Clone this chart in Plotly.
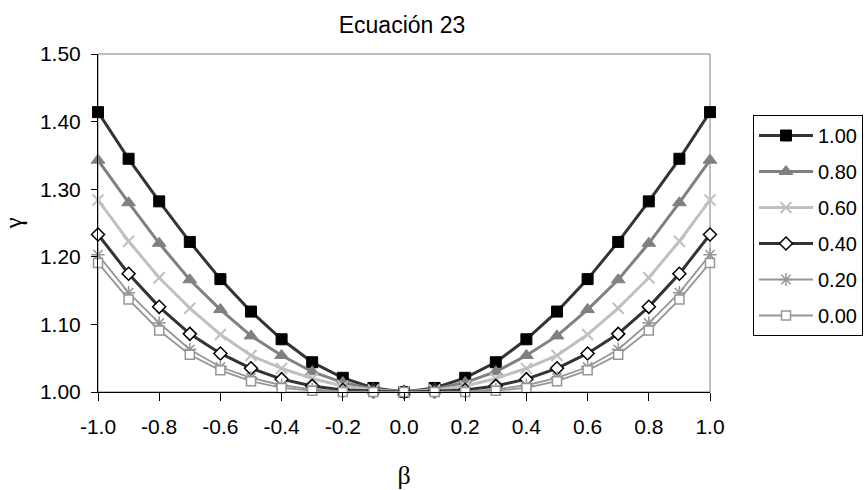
import plotly.graph_objects as go

beta = [-1.0, -0.9, -0.8, -0.7, -0.6, -0.5, -0.4, -0.3, -0.2, -0.1, 0.0,
        0.1, 0.2, 0.3, 0.4, 0.5, 0.6, 0.7, 0.8, 0.9, 1.0]

series_names = ["1.00", "0.80", "0.60", "0.40", "0.20", "0.00"]

g_100 = [1.414, 1.345, 1.282, 1.222, 1.167, 1.119, 1.078, 1.044, 1.021, 1.006, 1.000,
         1.006, 1.021, 1.044, 1.078, 1.119, 1.167, 1.222, 1.282, 1.345, 1.414]
g_080 = [1.343, 1.280, 1.220, 1.166, 1.122, 1.083, 1.054, 1.030, 1.014, 1.004, 1.000,
         1.004, 1.014, 1.030, 1.054, 1.083, 1.122, 1.166, 1.220, 1.280, 1.343]
g_060 = [1.284, 1.223, 1.169, 1.124, 1.085, 1.054, 1.035, 1.020, 1.009, 1.003, 1.000,
         1.003, 1.009, 1.020, 1.035, 1.054, 1.085, 1.124, 1.169, 1.223, 1.284]
g_040 = [1.233, 1.175, 1.126, 1.086, 1.057, 1.035, 1.019, 1.009, 1.003, 1.001, 1.000,
         1.001, 1.003, 1.009, 1.019, 1.035, 1.057, 1.086, 1.126, 1.175, 1.233]
g_020 = [1.203, 1.147, 1.102, 1.063, 1.037, 1.021, 1.010, 1.004, 1.001, 1.000, 1.000,
         1.000, 1.001, 1.004, 1.010, 1.021, 1.037, 1.063, 1.102, 1.147, 1.203]
g_000 = [1.191, 1.137, 1.091, 1.055, 1.032, 1.016, 1.006, 1.002, 1.000, 1.000, 1.000,
         1.000, 1.000, 1.002, 1.006, 1.016, 1.032, 1.055, 1.091, 1.137, 1.191]

x_ticks = [-1.0, -0.8, -0.6, -0.4, -0.2, 0.0, 0.2, 0.4, 0.6, 0.8, 1.0]
y_ticks = [1.00, 1.10, 1.20, 1.30, 1.40, 1.50]

styles = [
    dict(data=g_100, line=dict(color="#333333", width=3),
         marker=dict(symbol="square", size=11, color="#000000", line=dict(color="#000000", width=1))),
    dict(data=g_080, line=dict(color="#808080", width=3),
         marker=dict(symbol="triangle-up", size=12, color="#808080", line=dict(color="#808080", width=1))),
    dict(data=g_060, line=dict(color="#C0C0C0", width=3),
         marker=dict(symbol="x-thin-open", size=11, color="#C0C0C0", line=dict(color="#C0C0C0", width=2))),
    dict(data=g_040, line=dict(color="#333333", width=3),
         marker=dict(symbol="diamond", size=10, color="#FFFFFF", line=dict(color="#000000", width=1.5))),
    dict(data=g_020, line=dict(color="#969696", width=1.8),
         marker=dict(symbol="asterisk-open", size=11, color="#969696", line=dict(color="#969696", width=1.5))),
    dict(data=g_000, line=dict(color="#969696", width=1.8),
         marker=dict(symbol="square", size=9, color="#FFFFFF", line=dict(color="#969696", width=1.5))),
]

fig = go.Figure()
for name, st in zip(series_names, styles):
    fig.add_trace(go.Scatter(
        x=beta, y=st["data"], name=name, mode="lines+markers",
        line=st["line"], marker=st["marker"], cliponaxis=False,
        legendgroup=name,
    ))

font_sans = "Liberation Sans, Arial, sans-serif"
font_serif = "Liberation Serif, Times New Roman, serif"

fig.update_layout(
    width=866, height=490,
    margin=dict(l=98, r=156, t=54, b=98, autoexpand=False),
    paper_bgcolor="white", plot_bgcolor="white",
    title=dict(text="Ecuación 23", x=402 / 866, xanchor="center",
               y=1 - 25 / 490, yanchor="middle", yref="container",
               font=dict(family=font_sans, size=23, color="black")),
    xaxis=dict(range=[-1.0, 1.0], tickvals=x_ticks, ticktext=[f"{v:.1f}" for v in x_ticks],
               showgrid=False, zeroline=False, showline=True, linecolor="black", linewidth=1,
               ticks="outside", ticklen=8, tickcolor="black", ticklabelstandoff=8,
               automargin=False,
               tickfont=dict(family=font_sans, size=21, color="black"),
               title=dict(text="β", font=dict(family=font_serif, size=26, color="black"), standoff=28)),
    yaxis=dict(range=[1.0, 1.5], tickvals=y_ticks, ticktext=[f"{v:.2f}" for v in y_ticks],
               showgrid=False, zeroline=False, showline=True, linecolor="black", linewidth=1,
               ticks="outside", ticklen=6, tickcolor="black", ticklabelstandoff=6,
               automargin=False,
               tickfont=dict(family=font_sans, size=21, color="black"),
               title=dict(text="γ", font=dict(family=font_serif, size=25, color="black"), standoff=16)),
    legend=dict(x=(753 - 98) / 612, y=(392 - 115) / 338, xanchor="left", yanchor="top",
                bordercolor="black", borderwidth=1, bgcolor="white",
                font=dict(family=font_sans, size=20, color="black"),
                tracegroupgap=7, itemwidth=54),
    shapes=[dict(type="rect", xref="paper", yref="paper", x0=0, x1=1, y0=0, y1=1,
                 line=dict(color="#808080", width=1), layer="below")],
)

fig.write_html("out.html")
